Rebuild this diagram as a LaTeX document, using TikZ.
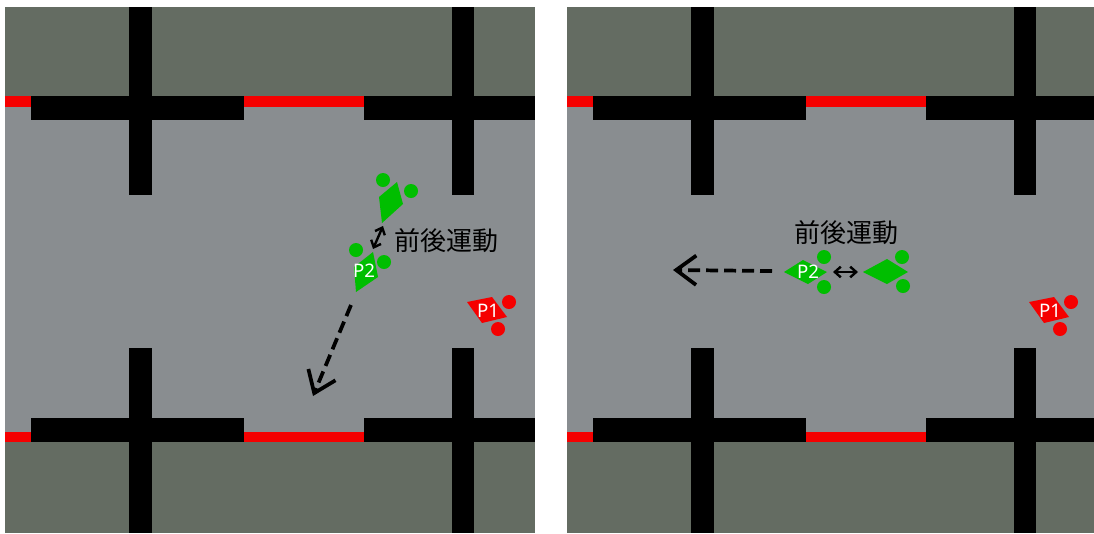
\documentclass[tikz,border=0pt]{standalone}
\usepackage{fontspec}
\setmainfont{Noto Sans}
\newfontfamily\jpfont{Noto Sans CJK JP}
\usetikzlibrary{arrows.meta}

\definecolor{floorgray}{RGB}{137,141,144}
\definecolor{blockgreen}{RGB}{100,108,98}
\definecolor{wallred}{RGB}{245,0,0}
\definecolor{botgreen}{RGB}{0,190,0}

% One playing field: floor, outer blocks, red walls, black posts and robot P1
\newcommand\drawfield{%
  \fill[floorgray]  (5,7)   rectangle (535,533);
  \fill[blockgreen] (5,7)   rectangle (535,96);
  \fill[blockgreen] (5,442) rectangle (535,533);
  \fill[wallred]    (5,96)  rectangle (535,107);
  \fill[wallred]    (5,432) rectangle (535,442);
  \fill[black] (31,96)   rectangle (244,120);
  \fill[black] (364,96)  rectangle (535,120);
  \fill[black] (31,418)  rectangle (244,442);
  \fill[black] (364,418) rectangle (535,442);
  \fill[black] (129,7)   rectangle (152,195);
  \fill[black] (452,7)   rectangle (474,195);
  \fill[black] (129,348) rectangle (152,533);
  \fill[black] (452,348) rectangle (474,533);
  % robot P1
  \fill[wallred] (467,302) -- (492,297) -- (507,317) -- (482,323) -- cycle;
  \fill[wallred] (509,302) circle[radius=7];
  \fill[wallred] (498,329) circle[radius=7];
  \node[tag] (p1) at (488,311) {P1};
}

\begin{document}
\begin{tikzpicture}[x=0.75pt,y=-0.75pt,
  tag/.style={text=white,font=\fontsize{14}{14}\selectfont,inner sep=0pt},
  motion/.style={font=\jpfont\fontsize{19.5}{19.5}\selectfont,text=black,inner sep=0pt},
  bot/.style={fill=botgreen},
  swing/.style={line width=1.8pt,{Straight Barb[length=4.5pt,width=8pt]}-{Straight Barb[length=4.5pt,width=8pt]}},
  travel/.style={line width=2.8pt,dash pattern=on 9pt off 4.5pt,-{Straight Barb[length=15pt,width=22pt]}}]
\useasboundingbox (0,0) rectangle (1094,533);

% ---------- left field ----------
\drawfield
% P2, forward position
\fill[bot] (397,182) -- (403,204) -- (382,223) -- (379,197) -- cycle;
\fill[bot] (383,180) circle[radius=7];
\fill[bot] (411,191) circle[radius=7];
% P2, back position
\fill[bot] (373,252) -- (378,277) -- (356,292) -- (354,267) -- cycle;
\fill[bot] (356,250) circle[radius=7];
\fill[bot] (384,262) circle[radius=7];
\node[tag] (p2l) at (364,271) {P2};
\coordinate (sl1) at (383,226);
\coordinate (sl2) at (373,249);
\draw[swing] (sl1) -- (sl2);
\node[motion] (ml) at (446,241) {前後運動};
\coordinate (dl1) at (351,305);
\coordinate (dl2) at (313,396);
\draw[travel] (dl1) -- (dl2);

% ---------- right field ----------
\begin{scope}
  \clip (567,7) rectangle (1094,533);
  \begin{scope}[shift={(562,0)}]
    \drawfield
  \end{scope}
\end{scope}
% P2, rear position
\fill[bot] (784,272) -- (803,260) -- (827,272) -- (808,284) -- cycle;
\fill[bot] (824,257) circle[radius=7];
\fill[bot] (824,287) circle[radius=7];
\node[tag] (p2r) at (808,272) {P2};
% P2, front position
\fill[bot] (863,272) -- (887,259) -- (908,272) -- (887,284) -- cycle;
\fill[bot] (902,257) circle[radius=7];
\fill[bot] (903,286) circle[radius=7];
\coordinate (sr1) at (833,272);
\coordinate (sr2) at (858,272);
\draw[swing] (sr1) -- (sr2);
\node[motion] (mr) at (846,233) {前後運動};
\coordinate (dr1) at (772,271);
\coordinate (dr2) at (673,270);
\draw[travel] (dr1) -- (dr2);
\end{tikzpicture}
\end{document}
